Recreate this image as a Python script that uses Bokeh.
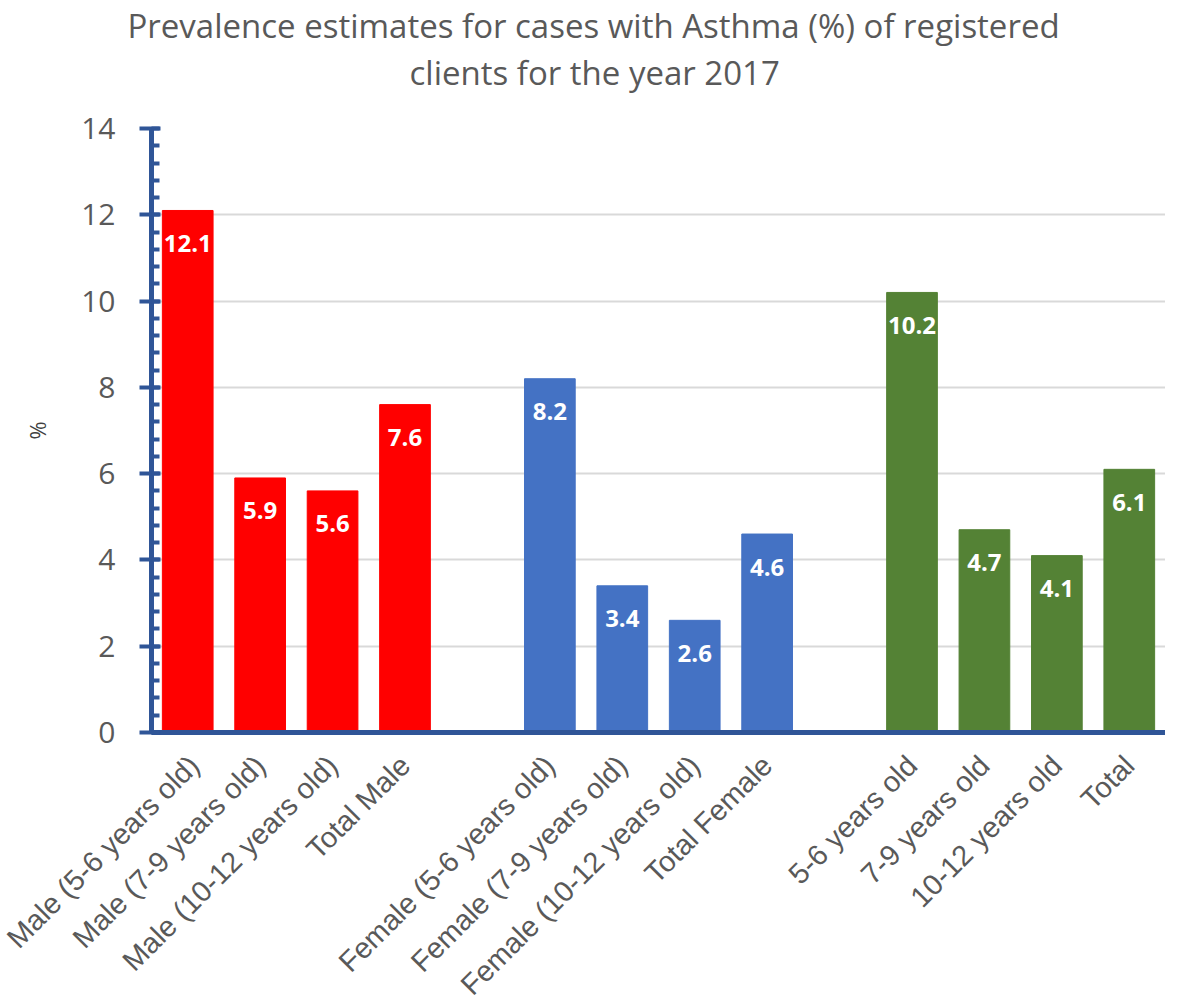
import math
from bokeh.plotting import figure
from bokeh.models import ColumnDataSource, FactorRange, Range1d, SingleIntervalTicker, Title
from bokeh.core.properties import value
from bokeh.embed import file_html
from bokeh.resources import INLINE

title_lines = ["Prevalence estimates for cases with Asthma (%) of registered",
               "clients for the year 2017"]
categories = ["Male (5-6 years old)", "Male (7-9 years old)", "Male (10-12 years old)", "Total Male",
              " ",
              "Female (5-6 years old)", "Female (7-9 years old)", "Female (10-12 years old)", "Total Female",
              "  ",
              "5-6 years old", "7-9 years old", "10-12 years old", "Total"]
bar_categories = ["Male (5-6 years old)", "Male (7-9 years old)", "Male (10-12 years old)", "Total Male",
                  "Female (5-6 years old)", "Female (7-9 years old)", "Female (10-12 years old)", "Total Female",
                  "5-6 years old", "7-9 years old", "10-12 years old", "Total"]
values = [12.1, 5.9, 5.6, 7.6, 8.2, 3.4, 2.6, 4.6, 10.2, 4.7, 4.1, 6.1]
colors = ["#FF0000"] * 4 + ["#4472C4"] * 4 + ["#548235"] * 4
labels = [f"{v:.1f}" for v in values]

src = ColumnDataSource(dict(cat=bar_categories, val=values, color=colors, label=labels))

p = figure(x_range=FactorRange(factors=categories, range_padding=0),
           y_range=Range1d(0, 14),
           frame_width=1014, frame_height=604, output_backend="svg", toolbar_location=None,
           min_border_left=151, min_border_right=0, min_border_bottom=0, min_border_top=0)
p.outline_line_color = None

def style_title(t):
    t.align = "left"
    t.text_font = "Open Sans"
    t.text_font_size = "33px"
    t.text_font_style = "normal"
    t.text_color = "#595959"

# outermost title line
p.title.text = title_lines[0]
style_title(p.title)
p.title.offset = -24
p.title.standoff = 0
# first added sits nearest the frame: spacer, then second title line
spacer = Title(text=" ", text_font_size="20px", standoff=10)
p.add_layout(spacer, "above")
t2 = Title(text=title_lines[1])
style_title(t2)
t2.offset = 258
t2.standoff = 0
p.add_layout(t2, "above")

p.vbar(x="cat", top="val", width=0.7, color="color", source=src)
p.text(x="cat", y="val", text="label", source=src, text_align="center", text_baseline="middle",
       y_offset=33, text_color="white", text_font=value("Open Sans"), text_font_style="bold",
       text_font_size="24px")

axc = "#2F5597"
p.yaxis.ticker = SingleIntervalTicker(interval=2, num_minor_ticks=5)
p.yaxis.axis_line_color = axc
p.yaxis.axis_line_width = 5
p.yaxis.major_tick_line_color = axc
p.yaxis.major_tick_line_width = 4
p.yaxis.major_tick_out = 12
p.yaxis.major_tick_in = 9
p.yaxis.minor_tick_line_color = axc
p.yaxis.minor_tick_line_width = 4
p.yaxis.minor_tick_in = 8
p.yaxis.minor_tick_out = 0
p.yaxis.major_label_text_font = "Open Sans"
p.yaxis.major_label_text_font_size = "30px"
p.yaxis.major_label_text_color = "#595959"
p.yaxis.major_label_standoff = 24
p.yaxis.axis_label = "%"
p.yaxis.axis_label_text_font = "Open Sans"
p.yaxis.axis_label_text_font_size = "22px"
p.yaxis.axis_label_text_font_style = "normal"
p.yaxis.axis_label_text_color = "#404040"
p.yaxis.axis_label_standoff = 26

p.xaxis.axis_line_color = axc
p.xaxis.axis_line_width = 5
p.xaxis.major_tick_line_color = None
p.xaxis.minor_tick_line_color = None
p.xaxis.major_label_orientation = math.pi / 4
p.xaxis.major_label_text_font = "Liberation Sans"
p.xaxis.major_label_text_font_size = "29px"
p.xaxis.major_label_text_color = "#595959"
p.xaxis.major_label_standoff = 22

p.xgrid.grid_line_color = None
p.ygrid.grid_line_color = "#D9D9D9"
p.ygrid.grid_line_width = 2

open("out.html", "w").write(file_html(p, INLINE))
